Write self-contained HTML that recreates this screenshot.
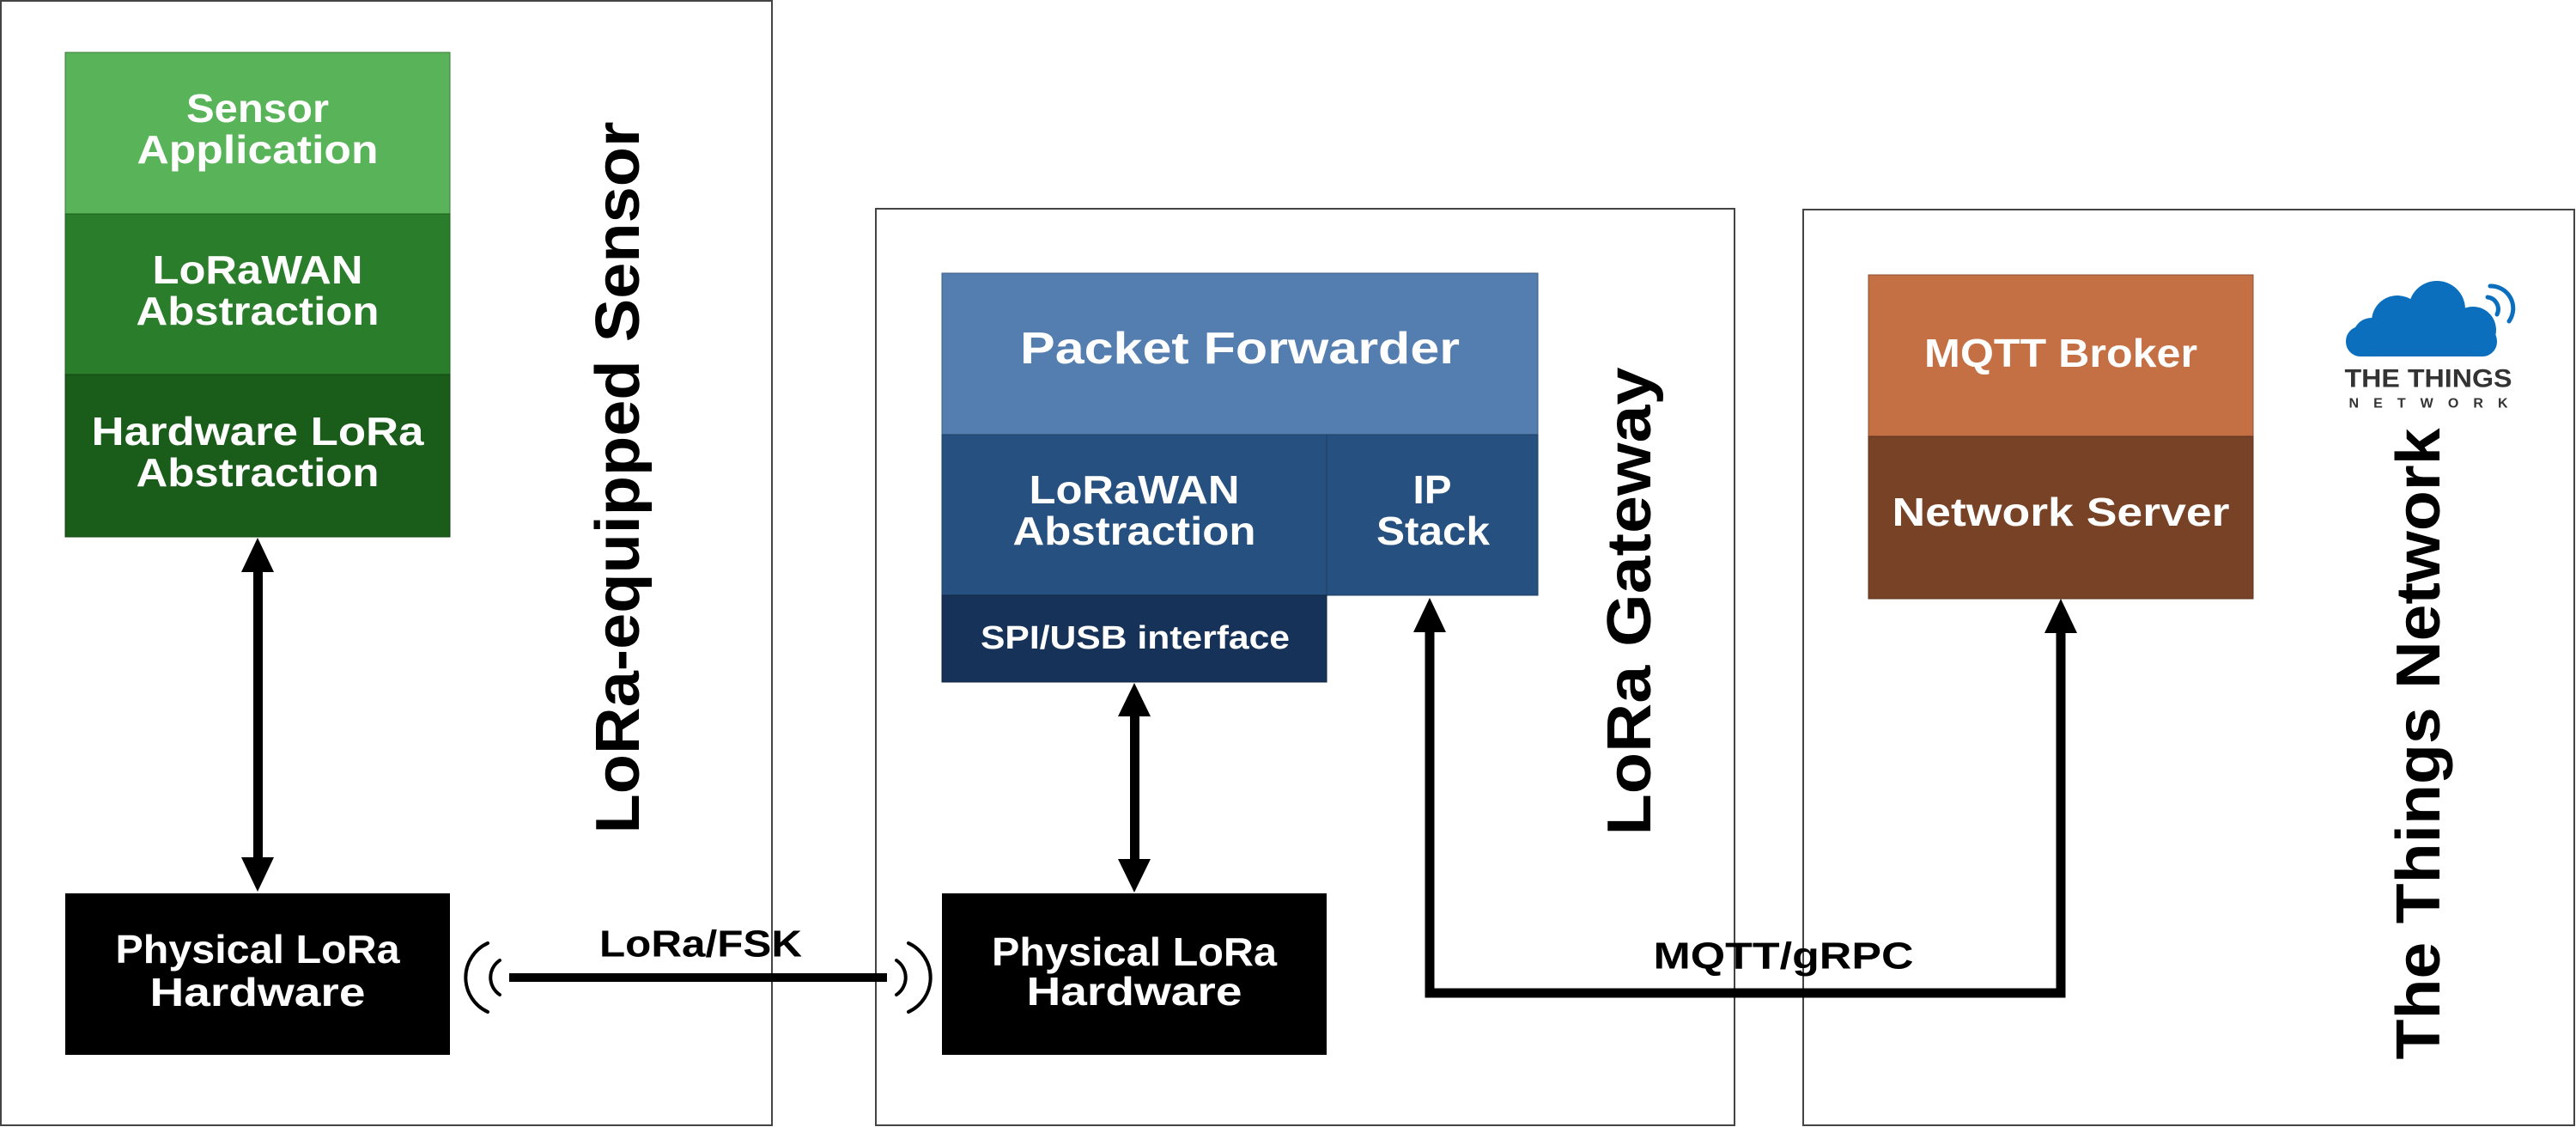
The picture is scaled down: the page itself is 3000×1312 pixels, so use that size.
<!DOCTYPE html>
<html><head><meta charset="utf-8"><style>
html,body{margin:0;padding:0;background:#fff;}
svg{display:block;}
text{font-family:"Liberation Sans",sans-serif;font-weight:bold;}
</style></head><body>
<svg width="3000" height="1312" viewBox="0 0 3000 1312" xmlns="http://www.w3.org/2000/svg">
<defs>
<marker id="ah" markerWidth="4" markerHeight="4" refX="0" refY="2" orient="auto" markerUnits="strokeWidth"><path d="M0,0 L4,2 L0,4 z" fill="#000"/></marker>
</defs>
<!-- containers -->
<rect x="1" y="1" width="898" height="1309" fill="none" stroke="#444" stroke-width="2"/>
<rect x="1020" y="243" width="1000" height="1067" fill="none" stroke="#444" stroke-width="2"/>
<rect x="2100" y="244" width="898" height="1066" fill="none" stroke="#444" stroke-width="2"/>

<!-- green stack -->
<rect x="76" y="61" width="448" height="188" fill="#59b459" stroke="#3a7a3a" stroke-width="1"/>
<rect x="76" y="249" width="448" height="187" fill="#2a7d2a" stroke="#1f5f1f" stroke-width="1"/>
<rect x="76" y="436" width="448" height="189" fill="#1a5c1a" stroke="#144414" stroke-width="1"/>
<rect x="76" y="1040" width="448" height="188" fill="#000"/>
<g fill="#fff" font-size="46" text-anchor="middle" dominant-baseline="central">
<text x="300" y="126" textLength="166" lengthAdjust="spacingAndGlyphs">Sensor</text>
<text x="300" y="174" textLength="281" lengthAdjust="spacingAndGlyphs">Application</text>
<text x="300" y="314" textLength="245" lengthAdjust="spacingAndGlyphs">LoRaWAN</text>
<text x="300" y="362" textLength="283" lengthAdjust="spacingAndGlyphs">Abstraction</text>
<text x="300" y="502" textLength="387" lengthAdjust="spacingAndGlyphs">Hardware LoRa</text>
<text x="300" y="550" textLength="283" lengthAdjust="spacingAndGlyphs">Abstraction</text>
<text x="300" y="1105" textLength="331" lengthAdjust="spacingAndGlyphs">Physical LoRa</text>
<text x="300" y="1155" textLength="251" lengthAdjust="spacingAndGlyphs">Hardware</text>
</g>
<!-- sensor arrow -->
<rect x="295" y="664" width="11" height="336" fill="#000"/>
<path d="M281,666 L300,626 L319,666 z" fill="#000"/>
<path d="M281,998 L300,1038 L319,998 z" fill="#000"/>

<!-- gateway stack -->
<rect x="1097" y="318" width="694" height="188" fill="#547eb0" stroke="#3f5f88" stroke-width="1"/>
<rect x="1097" y="506" width="448" height="187" fill="#26507f" stroke="#1d3e63" stroke-width="1"/>
<rect x="1545" y="506" width="246" height="187" fill="#26507f" stroke="#1d3e63" stroke-width="1"/>
<rect x="1097" y="693" width="448" height="101" fill="#163258" stroke="#102640" stroke-width="1"/>
<rect x="1097" y="1040" width="448" height="188" fill="#000"/>
<g fill="#fff" text-anchor="middle" dominant-baseline="central">
<text x="1444" y="406" font-size="52" textLength="512" lengthAdjust="spacingAndGlyphs">Packet Forwarder</text>
<text x="1321" y="570" font-size="46" textLength="245" lengthAdjust="spacingAndGlyphs">LoRaWAN</text>
<text x="1321" y="618" font-size="46" textLength="283" lengthAdjust="spacingAndGlyphs">Abstraction</text>
<text x="1668" y="570" font-size="46" textLength="45" lengthAdjust="spacingAndGlyphs">IP</text>
<text x="1669" y="618" font-size="46" textLength="132" lengthAdjust="spacingAndGlyphs">Stack</text>
<text x="1322" y="743" font-size="38" textLength="360" lengthAdjust="spacingAndGlyphs">SPI/USB interface</text>
<text x="1321" y="1108" font-size="46" textLength="332" lengthAdjust="spacingAndGlyphs">Physical LoRa</text>
<text x="1321" y="1154" font-size="46" textLength="251" lengthAdjust="spacingAndGlyphs">Hardware</text>
</g>
<rect x="1316" y="832" width="11" height="170" fill="#000"/>
<path d="M1302,834 L1321,795 L1340,834 z" fill="#000"/>
<path d="M1302,1000 L1321,1039 L1340,1000 z" fill="#000"/>

<!-- TTN stack -->
<rect x="2176" y="320" width="448" height="188" fill="#c57044" stroke="#8a4e2f" stroke-width="1"/>
<rect x="2176" y="508" width="448" height="189" fill="#784226" stroke="#5a311c" stroke-width="1"/>
<g fill="#fff" text-anchor="middle" dominant-baseline="central" font-size="46">
<text x="2400" y="411" textLength="318" lengthAdjust="spacingAndGlyphs">MQTT Broker</text>
<text x="2400" y="596" textLength="393" lengthAdjust="spacingAndGlyphs">Network Server</text>
</g>

<!-- MQTT path -->
<path d="M1665,734 L1665,1156 L2400,1156 L2400,735" fill="none" stroke="#000" stroke-width="11"/>
<path d="M1646,736 L1665,696 L1684,736 z" fill="#000"/>
<path d="M2381,737 L2400,697 L2419,737 z" fill="#000"/>
<text x="2077" y="1113" font-size="44" text-anchor="middle" dominant-baseline="central" textLength="303" lengthAdjust="spacingAndGlyphs">MQTT/gRPC</text>

<!-- radio link -->
<rect x="593" y="1133" width="440" height="10" fill="#000"/>
<text x="816" y="1099" font-size="44" text-anchor="middle" dominant-baseline="central" textLength="236" lengthAdjust="spacingAndGlyphs">LoRa/FSK</text>
<g fill="none" stroke="#000" stroke-width="4" stroke-linecap="round">
<path d="M582,1118 A24,24 0 0 0 582,1158"/>
<path d="M568,1098 A44,44 0 0 0 568,1178"/>
<path d="M1044,1118 A24,24 0 0 1 1044,1158"/>
<path d="M1058,1098 A44,44 0 0 1 1058,1178"/>
</g>

<!-- vertical labels -->
<g font-size="72" text-anchor="middle" dominant-baseline="central" fill="#000">
<text transform="translate(720,556) rotate(-90)" textLength="829" lengthAdjust="spacingAndGlyphs">LoRa-equipped Sensor</text>
<text transform="translate(1898,700) rotate(-90)" textLength="545" lengthAdjust="spacingAndGlyphs">LoRa Gateway</text>
<text transform="translate(2817,866) rotate(-90)" textLength="735" lengthAdjust="spacingAndGlyphs">The Things Network</text>
</g>

<!-- TTN logo -->
<g fill="#0b6fbd">
<rect x="2732" y="380" width="176" height="35" rx="17"/>
<circle cx="2762" cy="392" r="22"/>
<circle cx="2792" cy="374" r="30"/>
<circle cx="2838" cy="360" r="33"/>
<circle cx="2880" cy="384" r="27"/>
</g>
<g fill="none" stroke="#0b6fbd" stroke-width="5" stroke-linecap="round">
<path d="M2897,346 A14,14 0 0 1 2908,366"/>
<path d="M2900,333 A26,26 0 0 1 2922,374"/>
</g>
<text x="2828" y="441" font-size="30" fill="#333" text-anchor="middle" dominant-baseline="central" textLength="195" lengthAdjust="spacingAndGlyphs">THE THINGS</text>
<text x="2828" y="470" font-size="16" fill="#333" text-anchor="middle" dominant-baseline="central" textLength="185" lengthAdjust="spacing">NETWORK</text>
</svg>
</body></html>
